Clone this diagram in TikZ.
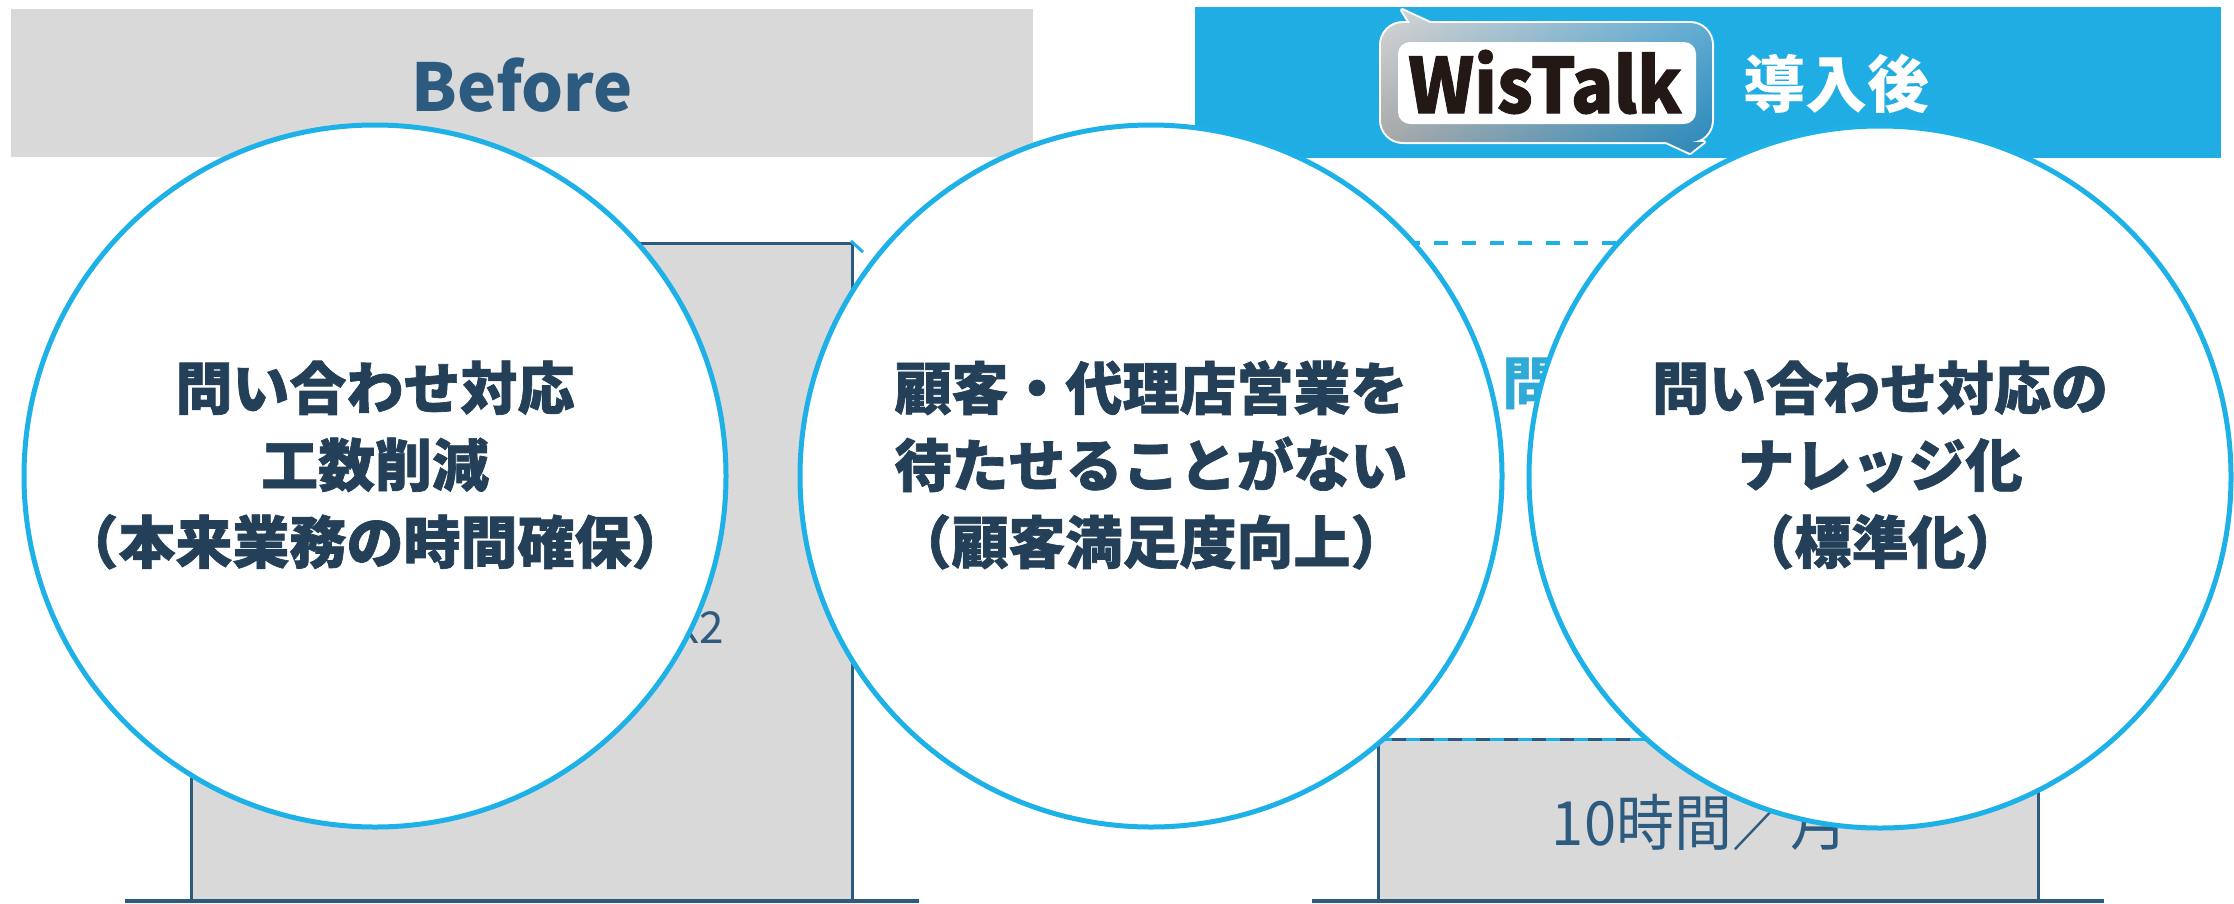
\documentclass[tikz,border=0pt]{standalone}
\usepackage{fontspec}
\usetikzlibrary{shadings}
\setmainfont{Noto Sans CJK JP}
\newfontfamily\heavyjp{Noto Sans CJK JP}[BoldFeatures={FakeBold=1.2}]
\definecolor{cyanL}{HTML}{1EB1E7}
\definecolor{headB}{HTML}{1FADE3}
\definecolor{navyT}{HTML}{243F58}
\definecolor{navyB}{HTML}{2D5B7F}
\definecolor{grayB}{HTML}{D9D9D9}
\definecolor{askC}{HTML}{2FAAD6}
\definecolor{logoK}{HTML}{231815}
\definecolor{lgUL}{HTML}{D6D6D6}
\definecolor{lgUR}{HTML}{64AFD6}
\definecolor{lgLL}{HTML}{A4A4A4}
\definecolor{lgLR}{HTML}{2887B9}
\begin{document}
\begin{tikzpicture}[x=1pt,y=-1pt,
  ctext/.style={align=center, text=navyT, font=\heavyjp\bfseries\fontsize{57}{77}\selectfont, inner sep=0pt},
  bubble/.style={circle, draw=cyanL, line width=5pt, fill=white, minimum size=702pt, inner sep=0pt},
  barfill/.style={fill=grayB},
  barline/.style={draw=navyB, line width=3pt},
  baseln/.style={draw=navyB, line width=4pt},
  thin/.style={text=navyB, inner sep=0pt},
]
\useasboundingbox (0,0) rectangle (2234,903);
\fill[white] (0,0) rectangle (2234,903);

% headers
\fill[grayB] (11,9) rectangle (1033,157);
\node[text=navyB, font=\bfseries\fontsize{66}{66}\selectfont, inner sep=0pt] (before) at (522,85) {Before};
\fill[headB] (1195,7) rectangle (2221,158);

% logo bubble
\draw[white, line width=4pt, line join=round] (1381,45) arc (180:270:22) -- (1410,23) -- (1402,10) -- (1430,23) -- (1690,23) arc (270:360:22) -- (1712,120) arc (0:90:22) -- (1704,142) -- (1690,153) -- (1666,142) -- (1403,142) arc (90:180:22) -- cycle;
\shade[upper left=lgUL, upper right=lgUR, lower left=lgLL, lower right=lgLR] (1381,45) arc (180:270:22) -- (1410,23) -- (1402,10) -- (1430,23) -- (1690,23) arc (270:360:22) -- (1712,120) arc (0:90:22) -- (1704,142) -- (1690,153) -- (1666,142) -- (1403,142) arc (90:180:22) -- cycle;
\fill[white, rounded corners=12pt] (1398,42) rectangle (1696,124);
\node[text=logoK, font=\heavyjp\bfseries\fontsize{76}{76}\selectfont, inner sep=0pt] (wis) at (1545,82) {\scalebox{0.93}[1]{WisTalk}};
\node[text=white, font=\bfseries\fontsize{62}{62}\selectfont, inner sep=0pt] (after) at (1836,84) {導入後};

% before bar
\fill[barfill] (191,243) rectangle (852,901);
\draw[barline] (191,901) -- (191,243) -- (852,243) -- (852,901);
\draw[cyanL, line width=3pt] (851,241) -- (863,252);
\draw[baseln] (125,901) -- (919,901);
\node[thin, font=\fontsize{44}{44}\selectfont, anchor=base east] (x2) at (724,643) {x2};

% after bar
\fill[barfill] (1378,739) rectangle (2038,901);
\draw[barline] (1378,901) -- (1378,739) -- (2038,739) -- (2038,901);
\draw[cyanL, line width=3pt, dash pattern=on 14pt off 14pt] (1378,739) -- (2038,739);
\draw[baseln] (1312,901) -- (2104,901);
\draw[cyanL, line width=4pt, dash pattern=on 14pt off 14pt] (1378,243) -- (2038,243);
\node[thin, font=\fontsize{61}{61}\selectfont] (ten) at (1700,822) {\scalebox{0.95}[1]{10時間／月}};
\node[text=askC, font=\bfseries\fontsize{57}{57}\selectfont, anchor=west, inner sep=0pt] (ask) at (1502,384) {問};

% circles
\node[bubble] (c1) at (375,476) {};
\node[bubble] (c2) at (1151,476) {};
\node[bubble] (c3) at (1880,477) {};
\node[ctext] (t1) at (375,465) {問い合わせ対応\\工数削減\\（本来業務の時間確保）};
\node[ctext] (t2) at (1151,465) {顧客・代理店営業を\\待たせることがない\\（顧客満足度向上）};
\node[ctext] (t3) at (1880,465) {問い合わせ対応の\\ナレッジ化\\（標準化）};
\end{tikzpicture}
\end{document}
